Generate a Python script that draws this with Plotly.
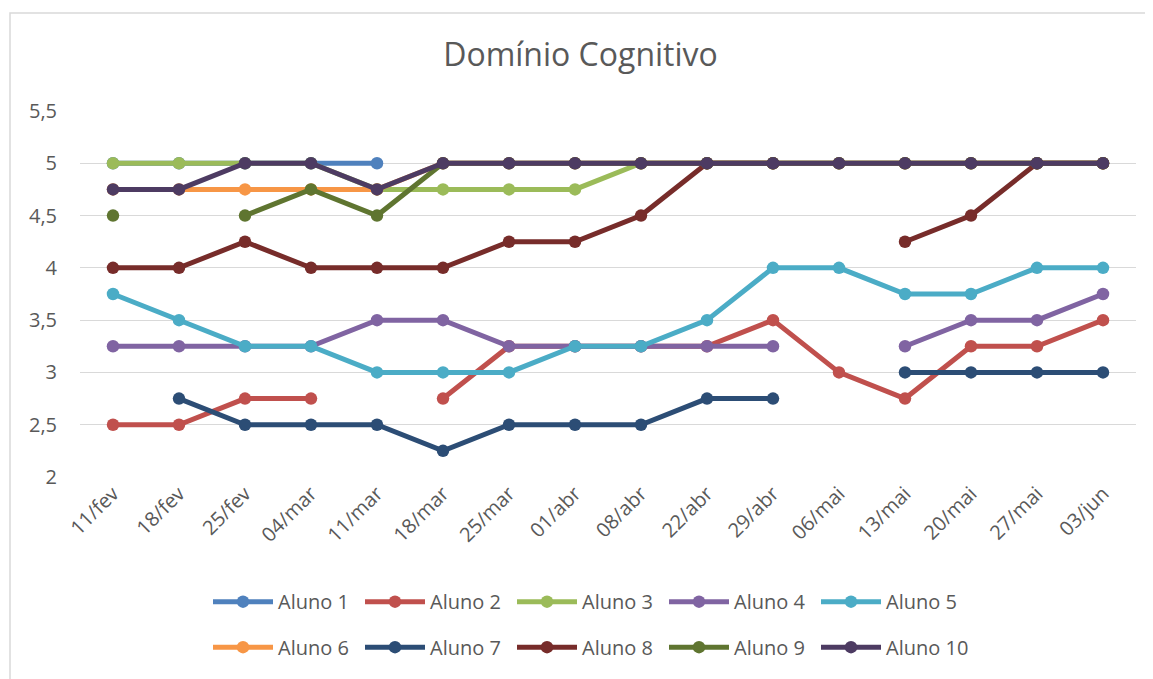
import plotly.graph_objects as go

categories = ["11/fev", "18/fev", "25/fev", "04/mar", "11/mar", "18/mar", "25/mar", "01/abr",
              "08/abr", "22/abr", "29/abr", "06/mai", "13/mai", "20/mai", "27/mai", "03/jun"]

N = None
aluno1 = [5, 5, 5, 5, 5, N, N, N, N, N, N, N, N, N, N, N]
aluno2 = [2.5, 2.5, 2.75, 2.75, N, 2.75, 3.25, 3.25, 3.25, 3.25, 3.5, 3, 2.75, 3.25, 3.25, 3.5]
aluno3 = [5, 5, 5, 5, 4.75, 4.75, 4.75, 4.75, 5, 5, 5, 5, 5, 5, 5, 5]
aluno4 = [3.25, 3.25, 3.25, 3.25, 3.5, 3.5, 3.25, 3.25, 3.25, 3.25, 3.25, N, 3.25, 3.5, 3.5, 3.75]
aluno5 = [3.75, 3.5, 3.25, 3.25, 3, 3, 3, 3.25, 3.25, 3.5, 4, 4, 3.75, 3.75, 4, 4]
aluno6 = [4.75, 4.75, 4.75, 4.75, 4.75, 5, 5, 5, 5, 5, 5, 5, 5, 5, 5, 5]
aluno7 = [N, 2.75, 2.5, 2.5, 2.5, 2.25, 2.5, 2.5, 2.5, 2.75, 2.75, N, 3, 3, 3, 3]
aluno8 = [4, 4, 4.25, 4, 4, 4, 4.25, 4.25, 4.5, 5, 5, N, 4.25, 4.5, 5, 5]
aluno9 = [4.5, N, 4.5, 4.75, 4.5, 5, 5, 5, 5, 5, 5, 5, 5, 5, 5, 5]
aluno10 = [4.75, 4.75, 5, 5, 4.75, 5, 5, 5, 5, 5, 5, 5, 5, 5, 5, 5]

names = ["Aluno 1", "Aluno 2", "Aluno 3", "Aluno 4", "Aluno 5",
         "Aluno 6", "Aluno 7", "Aluno 8", "Aluno 9", "Aluno 10"]
series = [aluno1, aluno2, aluno3, aluno4, aluno5, aluno6, aluno7, aluno8, aluno9, aluno10]
colors = ["#4F81BD", "#C0504D", "#9BBB59", "#8064A2", "#4BACC6",
          "#F79646", "#2C4D75", "#772C2A", "#5F7530", "#4D3B62"]

fig = go.Figure()
for i, (nm, vals, c) in enumerate(zip(names, series, colors)):
    fig.add_trace(go.Scatter(
        x=categories, y=vals, name=nm, mode="lines+markers",
        line=dict(color=c, width=5), marker=dict(color=c, size=12.5),
        connectgaps=False,
        legend="legend" if i < 5 else "legend2",
    ))

W, H = 1145, 671
PL, PR, PT, PB = 72, 1128, 103, 473
PW, PHt = PR - PL, PB - PT

font_fam = "Open Sans"
gray = "#595959"
leg_common = dict(orientation="h", xanchor="left", x=(200 - PL) / PW,
                  yanchor="middle", entrywidth=77, itemwidth=60,
                  font=dict(size=20, color=gray), bgcolor="rgba(0,0,0,0)")
fig.update_layout(
    width=W, height=H,
    margin=dict(l=PL, r=W - PR, t=PT, b=H - PB),
    paper_bgcolor="white", plot_bgcolor="white",
    separators=",.",
    font=dict(family=font_fam, color=gray, size=20),
    title=dict(text="Domínio Cognitivo", x=0.5, xanchor="center",
               y=1 - 47 / H, yref="container", yanchor="middle",
               font=dict(size=32, color=gray, family=font_fam)),
    xaxis=dict(type="category", range=[-0.5, 15.5], tickangle=-45,
               showgrid=False, showline=False, ticks="",
               tickfont=dict(size=20, color=gray)),
    yaxis=dict(range=[2, 5.5], dtick=0.5, tick0=2, showgrid=True,
               gridcolor="#D9D9D9", gridwidth=1, zeroline=False,
               showline=False, ticks="", ticklabelstandoff=22,
               tickfont=dict(size=20, color=gray)),
    legend=dict(leg_common, y=(PB - 599) / PHt),
    legend2=dict(leg_common, y=(PB - 645) / PHt),
    showlegend=True,
)

fig.add_shape(type="rect", xref="paper", yref="paper",
              x0=(2 - PL) / PW, x1=(1170 - PL) / PW,
              y0=(PB - 700) / PHt, y1=(PB - 4) / PHt,
              line=dict(color="#D9D9D9", width=1.5), fillcolor="rgba(0,0,0,0)",
              layer="below")

fig.write_html("out.html")
